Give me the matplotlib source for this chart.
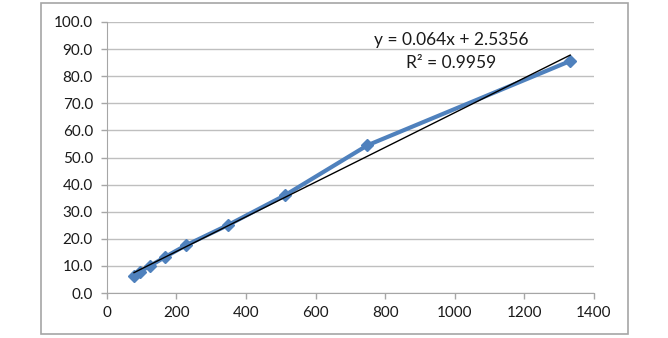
import matplotlib.pyplot as plt
import numpy as np
from matplotlib.patches import Rectangle

# Data
x_vals = [78, 95, 124, 166, 227, 347, 511, 749, 1332]
y_vals = [6.3, 7.9, 10.0, 13.2, 17.6, 25.0, 36.0, 54.5, 85.6]

# Linear trendline as printed on the chart
slope = 0.064
intercept = 2.5356
r2 = 0.9959

x_ticks = [0, 200, 400, 600, 800, 1000, 1200, 1400]
y_ticks = [0, 10, 20, 30, 40, 50, 60, 70, 80, 90, 100]

plt.rcParams['font.family'] = ['Lato', 'DejaVu Sans']

fig = plt.figure(figsize=(6.68, 3.38), dpi=100)
ax = fig.add_axes([0.160, 0.133, 0.729, 0.802])

# outer chart border
fig.patches.append(Rectangle((41 / 668, 1 - 334 / 338), 587 / 668, 331 / 338,
                             transform=fig.transFigure, fill=False,
                             edgecolor='#a6a6a6', linewidth=1.2))

ax.plot(x_vals, y_vals, color='#4f81bd', linewidth=3, marker='D',
        markersize=6.5, zorder=3)

tx = np.array([min(x_vals), max(x_vals)])
ax.plot(tx, slope * tx + intercept, color='black', linewidth=1, zorder=4)

ax.set_xlim(0, 1400)
ax.set_ylim(0, 100)
ax.set_xticks(x_ticks)
ax.set_yticks(y_ticks)
ax.set_yticklabels([f'{v:.1f}' for v in y_ticks])
ax.tick_params(axis='both', colors='#a6a6a6', labelcolor='#1a1a1a',
               labelsize=11, length=4, width=1)
ax.tick_params(axis='y', pad=6)
ax.tick_params(axis='x', pad=5)

ax.yaxis.grid(True, color='#bfbfbf', linewidth=1)
ax.set_axisbelow(True)
for s in ['top', 'right']:
    ax.spines[s].set_visible(False)
for s in ['left', 'bottom']:
    ax.spines[s].set_color('#a6a6a6')

fig.text(451 / 668, 1 - 40 / 338, f'y = {slope}x + {intercept}',
         ha='center', va='center', fontsize=12.5, color='#1a1a1a')
fig.text(451 / 668, 1 - 63 / 338, f'R² = {r2}',
         ha='center', va='center', fontsize=12.5, color='#1a1a1a')

fig.savefig('out.png', dpi=100)
